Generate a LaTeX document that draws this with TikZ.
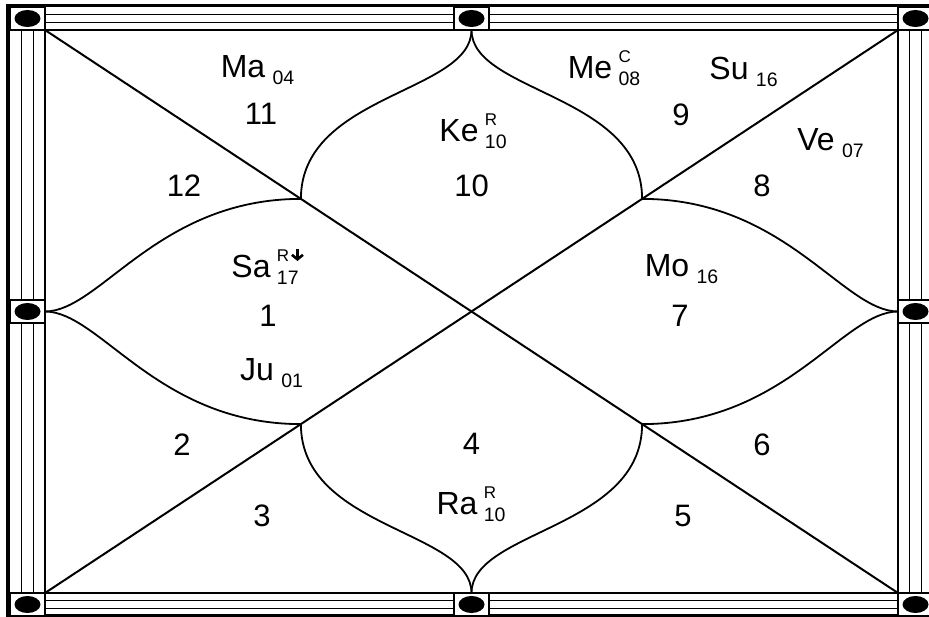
\documentclass[tikz,border=0pt]{standalone}
\usepackage{fontspec}
\setmainfont{Liberation Sans}
\usetikzlibrary{calc, positioning, arrows.meta}

\begin{document}
\begin{tikzpicture}[x=1pt, y=-1pt,
  rim/.style={line width=3.5pt},
  band/.style={line width=1.4pt},
  seam/.style={line width=2pt},
  petal/.style={line width=1.8pt},
  knot/.style={draw, line width=1.8pt, fill=white, minimum width=35pt, minimum height=23pt, inner sep=0pt},
  house/.style={font=\fontsize{31}{33}\selectfont, inner sep=0pt},
  graha/.style={font=\fontsize{32}{34}\selectfont, inner sep=0pt},
  deg/.style={font=\fontsize{19.5}{21}\selectfont, inner sep=0pt, anchor=base west},
  flag/.style={font=\fontsize{17}{19}\selectfont, inner sep=0pt, anchor=base west}]
\useasboundingbox (0,0) rectangle (929,617);
\clip (0,0) rectangle (929,617);

% Frame with the four bands
\foreach \y in {14.7,22.3,600.7,608.3} \draw[band] (10,\y) -- (935,\y);
\foreach \x in {21.7,33.3,909.7,921.3} \draw[band] (\x,7) -- (\x,616);
\draw[rim] (8,5.5) rectangle (935,615.5);

\coordinate (tl) at (45,30);
\coordinate (tr) at (898,30);
\coordinate (bl) at (45,593);
\coordinate (br) at (898,593);
\coordinate (tm) at (471.5,30);
\coordinate (bm) at (471.5,593);
\coordinate (lm) at (45,311.5);
\coordinate (rm) at (898,311.5);
\draw[seam] (tl) rectangle (br);

% Knots on the frame
\foreach \x/\y [count=\k] in {27.5/18.5, 471.5/18.5, 915.5/18.5, 27.5/311.5, 915.5/311.5, 27.5/604.5, 471.5/604.5, 915.5/604.5} {
  \node[knot] (k\k) at (\x,\y) {};
  \fill (k\k) ellipse (13pt and 8.5pt);
}

% Diagonals
\draw[seam] (tl) -- (br);
\draw[seam] (tr) -- (bl);
\coordinate (p1) at ($(tl)!0.3!(br)$);
\coordinate (p2) at ($(tr)!0.3!(bl)$);
\coordinate (p3) at ($(tl)!0.7!(br)$);
\coordinate (p4) at ($(tr)!0.7!(bl)$);

% Lotus petals
\draw[petal] (tm) .. controls +(0,63) and +(0,-105) .. (p1);
\draw[petal] (tm) .. controls +(0,63) and +(0,-105) .. (p2);
\draw[petal] (bm) .. controls +(0,-63) and +(0,105) .. (p4);
\draw[petal] (bm) .. controls +(0,-63) and +(0,105) .. (p3);
\draw[petal] (lm) .. controls +(55,0) and +(-143,0) .. (p1);
\draw[petal] (lm) .. controls +(55,0) and +(-143,0) .. (p4);
\draw[petal] (rm) .. controls +(-55,0) and +(143,0) .. (p2);
\draw[petal] (rm) .. controls +(-55,0) and +(143,0) .. (p3);

% House numbers
\foreach \n/\x/\y in {1/268/316, 2/182/445, 3/262/516, 4/471.5/444, 5/683/516, 6/762/445, 7/680/316, 8/762/186, 9/681/115, 10/471.5/186, 11/261/114, 12/184/186}
  \node[house] (h\n) at (\x,\y) {\n};

% Planets
\node[graha] (ma) at (243,67) {Ma};
\node[deg] (ma-d) at ([xshift=7pt,yshift=-7pt]ma.base east) {04};
\node[graha] (me) at (590,68) {Me};
\node[flag] (me-f) at ([xshift=6pt,yshift=16pt]me.base east) {C};
\node[deg] (me-d) at ([xshift=6pt,yshift=-7pt]me.base east) {08};
\node[graha] (su) at (729,68) {Su};
\node[deg] (su-d) at ([xshift=7pt,yshift=-7pt]su.base east) {16};
\node[graha] (ke) at (459,131) {Ke};
\node[flag] (ke-f) at ([xshift=6pt,yshift=16pt]ke.base east) {R};
\node[deg] (ke-d) at ([xshift=6pt,yshift=-7pt]ke.base east) {10};
\node[graha] (ve) at (816,140) {Ve};
\node[deg] (ve-d) at ([xshift=7pt,yshift=-7pt]ve.base east) {07};
\node[graha] (sa) at (251,266) {Sa};
\node[flag] (sa-f) at ([xshift=6pt,yshift=16pt]sa.base east) {R};
\coordinate (sa-a) at ([xshift=8pt,yshift=12pt]sa-f.base east);
\draw[line width=2.6pt, -{Straight Barb[length=4.5pt,width=11pt,line width=2.6pt]}] (sa-a) -- ++(0,12);
\node[deg] (sa-d) at ([xshift=6pt,yshift=-7pt]sa.base east) {17};
\node[graha] (mo) at (667,266) {Mo};
\node[deg] (mo-d) at ([xshift=7pt,yshift=-7pt]mo.base east) {16};
\node[graha] (ju) at (257,370) {Ju};
\node[deg] (ju-d) at ([xshift=7pt,yshift=-7pt]ju.base east) {01};
\node[graha] (ra) at (457,504) {Ra};
\node[flag] (ra-f) at ([xshift=6pt,yshift=16pt]ra.base east) {R};
\node[deg] (ra-d) at ([xshift=6pt,yshift=-7pt]ra.base east) {10};
\end{tikzpicture}
\end{document}
